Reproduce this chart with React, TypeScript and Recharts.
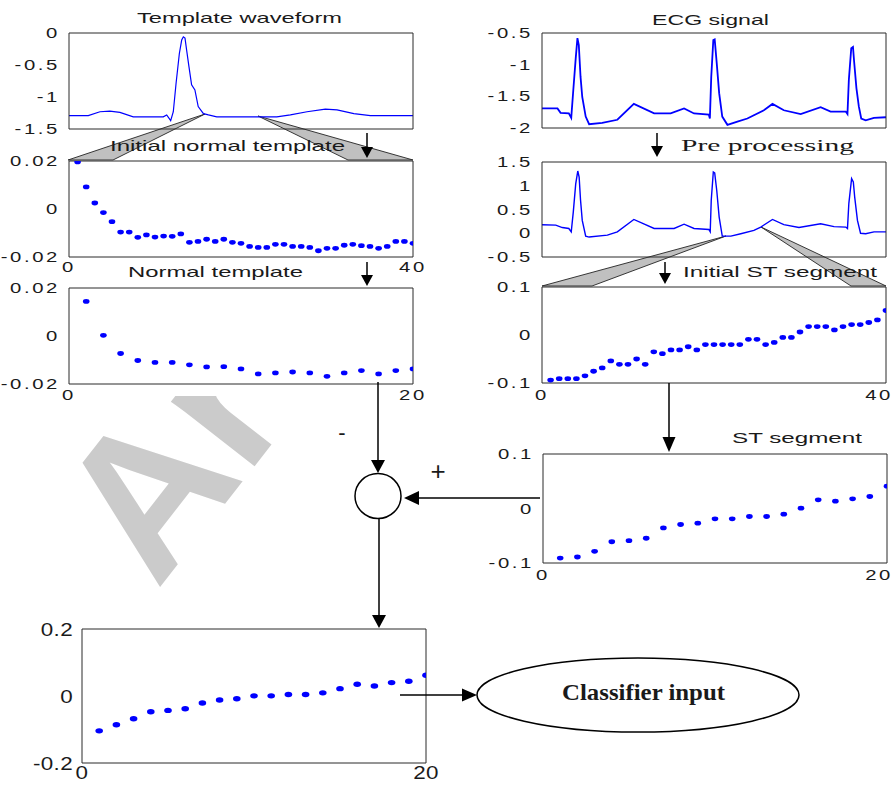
import React from "react";
import { ComposedChart, Line, Scatter, XAxis, YAxis } from "recharts";

const BLUE = "#0000ff";
const FRAME = "#2a2a2a";
const INK = "#1a1a1a";
const SANS = "Liberation Sans, Arial, sans-serif";
const SERIF = "Liberation Serif, Times New Roman, serif";
const PAGE_W = 894;

// template waveform: sample index / amplitude
const templT = [0, 14, 22.5, 29.7, 37, 46.7, 68.5, 71, 73.9, 75.8, 77.8, 80.2, 81.9, 83.1, 84.3, 85.5, 87.2, 89.1, 91.5, 93.9, 97.7, 101.3, 107.4, 151, 160.9, 173, 186.3, 194.8, 207, 219, 250];
const templV = [-1.29, -1.29, -1.23, -1.22, -1.24, -1.31, -1.31, -1.28, -1.37, -1.23, -0.79, -0.32, -0.11, -0.06, -0.08, -0.27, -0.53, -0.81, -0.89, -1.15, -1.26, -1.28, -1.31, -1.31, -1.28, -1.23, -1.19, -1.2, -1.26, -1.29, -1.29];

// raw ECG signal
const ecgT = [0, 45, 54, 78, 85, 91, 98, 103, 107, 112, 117, 127, 137, 175, 219, 267, 326, 374, 413, 442, 485, 488, 492, 498, 502, 508, 515, 524, 539, 568, 597, 645, 670, 703, 752, 810, 839, 883, 888, 892, 899, 904, 907, 914, 921, 928, 941, 965, 1000];
const ecgV = [-1.69, -1.69, -1.76, -1.77, -1.84, -1.4, -0.9, -0.58, -0.69, -1.19, -1.51, -1.82, -1.94, -1.92, -1.87, -1.62, -1.77, -1.77, -1.69, -1.77, -1.79, -1.85, -1.19, -0.61, -0.6, -0.98, -1.45, -1.82, -1.95, -1.9, -1.85, -1.72, -1.62, -1.72, -1.78, -1.67, -1.74, -1.74, -1.78, -1.24, -0.74, -0.72, -0.93, -1.37, -1.66, -1.85, -1.88, -1.84, -1.83];

// after pre processing
const preT = [0, 40, 59, 78, 85, 91, 98, 104, 108, 112, 117, 127, 137, 190, 219, 267, 326, 384, 413, 442, 485, 489, 492, 498, 502, 508, 515, 524, 549, 578, 616, 636, 670, 703, 747, 810, 849, 883, 888, 892, 900, 905, 909, 917, 926, 941, 965, 1000];
const preV = [0.18, 0.17, 0.12, 0.1, 0.03, 0.45, 1.04, 1.31, 1.18, 0.7, 0.27, -0.06, -0.08, -0.04, 0.03, 0.29, 0.1, 0.1, 0.19, 0.1, 0.08, 0.03, 0.7, 1.29, 1.27, 0.9, 0.34, -0.06, -0.06, -0.01, 0.06, 0.13, 0.29, 0.18, 0.12, 0.2, 0.14, 0.13, 0.1, 0.63, 1.15, 1.08, 0.76, 0.27, 0.0, -0.01, 0.03, 0.03];

const initTemplate = [0.0196, 0.0092, 0.0025, -0.0015, -0.0053, -0.0096, -0.0096, -0.0118, -0.0108, -0.0117, -0.0113, -0.0114, -0.0104, -0.0139, -0.0135, -0.0126, -0.0135, -0.0126, -0.0139, -0.0143, -0.0156, -0.016, -0.016, -0.0147, -0.0147, -0.0156, -0.0156, -0.016, -0.0174, -0.0164, -0.0164, -0.0151, -0.0147, -0.0153, -0.0156, -0.0164, -0.0156, -0.0135, -0.0135, -0.0143];
const normTemplate = [0.0144, 0.0003, -0.0073, -0.0102, -0.011, -0.011, -0.012, -0.0129, -0.0128, -0.0137, -0.0158, -0.0154, -0.015, -0.0154, -0.0168, -0.0154, -0.0144, -0.0158, -0.0144, -0.0137];
const initST = [-0.094, -0.091, -0.091, -0.091, -0.085, -0.0755, -0.0685, -0.054, -0.061, -0.061, -0.05, -0.061, -0.035, -0.039, -0.031, -0.031, -0.0245, -0.031, -0.02, -0.02, -0.02, -0.02, -0.02, -0.009, -0.009, -0.02, -0.0154, -0.005, -0.005, 0.0063, 0.0175, 0.0175, 0.0175, 0.0105, 0.0175, 0.0217, 0.0217, 0.026, 0.0315, 0.051];
const stSegment = [-0.091, -0.089, -0.0785, -0.061, -0.059, -0.0546, -0.0356, -0.0294, -0.027, -0.019, -0.019, -0.0147, -0.0147, -0.0104, 0.0006, 0.016, 0.0135, 0.0178, 0.022, 0.041];
const classifierIn = [-0.104, -0.086, -0.068, -0.047, -0.043, -0.038, -0.021, -0.012, -0.008, 0.0005, 0.0005, 0.0045, 0.0045, 0.0094, 0.022, 0.035, 0.03, 0.04, 0.044, 0.062];

const pairs = (t: number[], v: number[]) => t.map((x, i) => ({ x, y: v[i] }));
const indexed = (v: number[]) => v.map((y, i) => ({ x: i + 1, y }));

// MATLAB-style wide tick text; keeps labels inside the page on the right
function TickText(props: any) {
  const { x, y, payload, textAnchor, font, sx, ls, vertical, maxX } = props;
  const label = String(payload.value);
  let px = x;
  if (!vertical && maxX != null) {
    const half = (label.length * (font * 0.556 + ls) * sx) / 2;
    if (px + half > maxX) px = maxX - half;
  }
  return (
    <g transform={`translate(${px},${y}) scale(${sx},1)`}>
      <text x={0} y={0} textAnchor={textAnchor} dy={vertical ? "0.36em" : "0.72em"} fontSize={font} fontFamily={SANS} letterSpacing={ls} fill={INK}>
        {label}
      </text>
    </g>
  );
}

type PanelProps = {
  left: number; top: number; w: number; h: number;
  xDomain: [number, number]; xMinor: number[]; xLabels?: number[];
  yDomain: [number, number]; yTicks: number[];
  data: { x: number; y: number }[];
  mode: "line" | "dots";
  lw?: number; font?: number; sx?: number; ls?: number; xMargin?: number; dot?: [number, number];
};

function Panel(p: PanelProps) {
  const ML = 70, MT = 14, MR = 24, MB = 30;
  const font = p.font ?? 14, sx = p.sx ?? 1.45, ls = p.ls ?? 1.8;
  const [rx, ry] = p.dot ?? [3.3, 2.4];
  const maxX = PAGE_W - 1 - (p.left - ML);
  return (
    <div style={{ position: "absolute", left: p.left - ML, top: p.top - MT }}>
      <ComposedChart width={p.w + ML + MR} height={p.h + MT + MB} data={p.data} margin={{ top: MT, right: MR, bottom: 0, left: 0 }}>
        <XAxis xAxisId="b" dataKey="x" type="number" domain={p.xDomain} allowDataOverflow ticks={p.xLabels ?? []} interval={0}
          tick={p.xLabels ? <TickText font={font} sx={sx} ls={ls} maxX={maxX} /> : false}
          tickLine={false} tickSize={0} tickMargin={p.xMargin ?? 5} height={MB} axisLine={{ stroke: FRAME }} />
        <XAxis xAxisId="bm" dataKey="x" type="number" orientation="bottom" mirror domain={p.xDomain} allowDataOverflow ticks={p.xMinor} interval={0}
          tick={false} tickSize={4} tickLine={{ stroke: FRAME }} axisLine={false} />
        <XAxis xAxisId="t" dataKey="x" type="number" orientation="top" mirror domain={p.xDomain} allowDataOverflow ticks={p.xMinor} interval={0}
          tick={false} tickSize={4} tickLine={{ stroke: FRAME }} axisLine={{ stroke: FRAME }} />
        <YAxis yAxisId="l" dataKey="y" type="number" domain={p.yDomain} allowDataOverflow ticks={p.yTicks} interval={0} width={ML}
          tick={<TickText font={font} sx={sx} ls={ls} vertical />} tickLine={false} tickSize={0} tickMargin={9} axisLine={{ stroke: FRAME }} />
        <YAxis yAxisId="lm" dataKey="y" type="number" orientation="left" mirror domain={p.yDomain} allowDataOverflow ticks={p.yTicks} interval={0}
          tick={false} tickSize={4} tickLine={{ stroke: FRAME }} axisLine={false} />
        <YAxis yAxisId="r" dataKey="y" type="number" orientation="right" mirror domain={p.yDomain} allowDataOverflow ticks={p.yTicks} interval={0}
          tick={false} tickSize={4} tickLine={{ stroke: FRAME }} axisLine={{ stroke: FRAME }} />
        {p.mode === "line" ? (
          <Line xAxisId="b" yAxisId="l" dataKey="y" type="linear" stroke={BLUE} strokeWidth={p.lw ?? 1.3} dot={false} isAnimationActive={false} />
        ) : (
          <Scatter xAxisId="b" yAxisId="l" dataKey="y" fill={BLUE} isAnimationActive={false}
            shape={(s: any) => <ellipse cx={s.cx} cy={s.cy} rx={rx} ry={ry} fill={BLUE} />} />
        )}
      </ComposedChart>
    </div>
  );
}

function Arrow({ x1, y1, x2, y2, head = 13, half = 7 }: { x1: number; y1: number; x2: number; y2: number; head?: number; half?: number }) {
  const dx = x2 - x1, dy = y2 - y1;
  const len = Math.hypot(dx, dy);
  const ux = dx / len, uy = dy / len;
  const bx = x2 - ux * head, by = y2 - uy * head;
  const px = -uy * half, py = ux * half;
  return (
    <g>
      <line x1={x1} y1={y1} x2={bx} y2={by} stroke="#000" strokeWidth={1.5} />
      <polygon points={`${x2},${y2} ${bx + px},${by + py} ${bx - px},${by - py}`} fill="#000" />
    </g>
  );
}

function Title({ x, y, len, children, size = 15, family = SANS, weight = "normal" }: any) {
  return (
    <text x={x} y={y} textLength={len} lengthAdjust="spacingAndGlyphs" fontSize={size} fontFamily={family} fontWeight={weight} fill={INK}>
      {children}
    </text>
  );
}

export default function App() {
  return (
    <div style={{ position: "absolute", left: 0, top: 0, width: 894, height: 786, background: "#fff", overflow: "hidden" }}>
      <svg width={894} height={786} style={{ position: "absolute", left: 0, top: 0 }}>
        {/* watermark, hidden behind the upper-left panel area like in the source */}
        <text x={157} y={591} transform="rotate(-52 157 591)" fontSize={200} fontWeight="bold" fontFamily={SANS} fill="#cbcbcb">
          Ar
        </text>
        <rect x={0} y={0} width={440} height={396} fill="#fff" />
        <g fill="#c0c0c0" stroke="#222" strokeWidth={0.9}>
          <polygon points="68,160 113,160 205,114" />
          <polygon points="258,116 348,160 413,160" />
          <polygon points="542,286 592,286 726,236" />
          <polygon points="761,227 851,286 886,286" />
        </g>
      </svg>

      <Panel left={69} top={33} w={344} h={96} xDomain={[0, 250]} xMinor={[60, 120, 180, 240]} yDomain={[-1.5, 0]} yTicks={[-1.5, -1, -0.5, 0]}
        data={pairs(templT, templV)} mode="line" lw={1.2} />
      <Panel left={542} top={33} w={344} h={95} xDomain={[0, 1000]} xMinor={[200, 400, 600, 800]} yDomain={[-2, -0.5]} yTicks={[-2, -1.5, -1, -0.5]}
        data={pairs(ecgT, ecgV)} mode="line" lw={1.8} />
      <Panel left={69} top={161} w={344} h={96} xDomain={[0, 40]} xMinor={[10, 20, 30]} xLabels={[0, 40]} yDomain={[-0.02, 0.02]} yTicks={[-0.02, 0, 0.02]}
        data={indexed(initTemplate)} mode="dots" xMargin={5} />
      <Panel left={542} top={162} w={344} h={95} xDomain={[0, 1000]} xMinor={[200, 400, 600, 800]} yDomain={[-0.5, 1.5]} yTicks={[-0.5, 0, 0.5, 1, 1.5]}
        data={pairs(preT, preV)} mode="line" lw={1.4} />
      <Panel left={69} top={288} w={344} h={96} xDomain={[0, 20]} xMinor={[5, 10, 15]} xLabels={[0, 20]} yDomain={[-0.02, 0.02]} yTicks={[-0.02, 0, 0.02]}
        data={indexed(normTemplate)} mode="dots" xMargin={6} />
      <Panel left={542} top={287} w={344} h={96} xDomain={[0, 40]} xMinor={[10, 20, 30]} xLabels={[0, 40]} yDomain={[-0.1, 0.1]} yTicks={[-0.1, 0, 0.1]}
        data={indexed(initST)} mode="dots" xMargin={7} />
      <Panel left={543} top={454} w={344} h={109} xDomain={[0, 20]} xMinor={[5, 10, 15]} xLabels={[0, 20]} yDomain={[-0.1, 0.1]} yTicks={[-0.1, 0, 0.1]}
        data={indexed(stSegment)} mode="dots" xMargin={7} />
      <Panel left={82} top={629} w={344} h={134} xDomain={[0, 20]} xMinor={[5, 10, 15]} xLabels={[0, 20]} yDomain={[-0.2, 0.2]} yTicks={[-0.2, 0, 0.2]}
        data={indexed(classifierIn)} mode="dots" font={19} sx={1.18} ls={0.3} xMargin={2} dot={[3.8, 2.7]} />

      <svg width={894} height={786} style={{ position: "absolute", left: 0, top: 0, pointerEvents: "none" }}>
        <Title x={137} y={23} len={205}>Template waveform</Title>
        <Title x={652} y={25} len={117}>ECG signal</Title>
        <Title x={110} y={151} len={235}>Initial normal template</Title>
        <Title x={681} y={151} len={173} size={17} family={SERIF}>Pre processing</Title>
        <Title x={128} y={277} len={175}>Normal template</Title>
        <Title x={683} y={277} len={194}>Initial ST segment</Title>
        <Title x={732} y={443} len={130}>ST segment</Title>

        <Arrow x1={367} y1={133} x2={367} y2={158} head={11} half={6} />
        <Arrow x1={657} y1={133} x2={657} y2={157} head={11} half={6} />
        <Arrow x1={367} y1={262} x2={367} y2={286} head={11} half={6} />
        <Arrow x1={665} y1={262} x2={665} y2={284} head={11} half={6} />
        <Arrow x1={378} y1={382} x2={378} y2={473} />
        <Arrow x1={669} y1={383} x2={669} y2={452} head={15} half={6.5} />
        <Arrow x1={540} y1={498} x2={404} y2={498} head={15} half={7} />
        <Arrow x1={379} y1={518} x2={379} y2={628} />
        <Arrow x1={400} y1={695} x2={477} y2={695} head={15} half={6.5} />

        <text x={342} y={440} fontSize={22} fontFamily={SANS} textAnchor="middle" fill={INK}>-</text>
        <text x={438} y={480} fontSize={26} fontFamily={SANS} textAnchor="middle" fill={INK}>+</text>
        <ellipse cx={378} cy={496} rx={23} ry={22.5} fill="#fff" stroke="#000" strokeWidth={1.5} />
        <ellipse cx={638} cy={695} rx={161} ry={37} fill="#fff" stroke="#000" strokeWidth={1.5} />
        <Title x={562} y={700} len={163} size={24} family={SERIF} weight="bold">Classifier input</Title>
      </svg>
    </div>
  );
}
